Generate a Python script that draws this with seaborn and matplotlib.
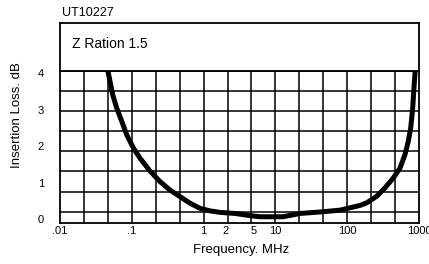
import numpy as np
import pandas as pd
import matplotlib
matplotlib.use("Agg")
import matplotlib.pyplot as plt
import seaborn as sns

# insertion loss curve
freq_mhz = [0.0456, 0.0497, 0.0542, 0.0616, 0.0723, 0.0849, 0.105, 0.130,
            0.179, 0.247, 0.340, 0.469, 0.647, 0.891, 1.23, 1.69, 2.74,
            4.43, 6.11, 12.8, 22.0, 41.8, 79.4, 151, 187, 258, 336, 439,
            544, 638, 709, 766, 817, 851, 890]
loss_db = [4.13, 3.77, 3.40, 3.04, 2.68, 2.31, 1.95, 1.67,
           1.32, 1.03, 0.80, 0.62, 0.44, 0.30, 0.23, 0.19, 0.16,
           0.10, 0.07, 0.07, 0.16, 0.20, 0.25, 0.38, 0.45, 0.63, 0.86, 1.13,
           1.40, 1.77, 2.13, 2.49, 3.04, 3.59, 4.13]

xtick_vals = [0.01, 0.1, 1, 2, 5, 10, 100, 1000]
xtick_labels = [".01", ".1", "1", "2", "5", "10", "100", "1000"]
ytick_vals = [0, 1, 2, 3, 4]
ytick_labels = ["0", "1", "2", "3", "4"]

part_no = "UT10227"
header_text = "Z Ration 1.5"

df = pd.DataFrame({"freq": freq_mhz, "loss": loss_db})

sns.set_style("white")
plt.rcParams["font.family"] = ["Liberation Sans", "DejaVu Sans"]

fig = plt.figure(figsize=(4.29, 2.64), dpi=100)
ax = fig.add_axes([0.1399, 0.1564, 0.8368, 0.5746])
hdr = fig.add_axes([0.1399, 0.7311, 0.8368, 0.1818])

# main plot
ax.set_xscale("log")
ax.set_xlim(0.01, 1000)
ax.set_ylim(-0.093, 4.052)

# uniform chart-paper grid (3 columns per decade, equal rows)
vgrid = 10 ** (np.arange(-5, 9) / 3.0)
hgrid = 4.052 - 0.549 * np.arange(1, 8)
for v in vgrid:
    ax.axvline(v, color="black", lw=1.1, zorder=1)
for h in hgrid:
    ax.axhline(h, color="black", lw=1.1, zorder=1)

sns.lineplot(data=df, x="freq", y="loss", ax=ax, color="black", lw=3.6,
             estimator=None, sort=False, zorder=3)

ax.set_xticks(xtick_vals)
ax.set_xticklabels(xtick_labels)
ax.xaxis.set_minor_locator(matplotlib.ticker.NullLocator())
ax.set_yticks(ytick_vals)
ax.set_yticklabels(ytick_labels)
ax.tick_params(axis="x", length=0, pad=2.5, labelsize=8, colors="black")
ax.tick_params(axis="y", length=0, pad=11.5, labelsize=8, colors="black")
ax.set_xlabel("")
ax.set_ylabel("")
for sp in ax.spines.values():
    sp.set_visible(True)
    sp.set_color("black")
    sp.set_linewidth(1.3)

# header box
hdr.set_xticks([])
hdr.set_yticks([])
for sp in hdr.spines.values():
    sp.set_visible(True)
    sp.set_color("black")
    sp.set_linewidth(1.3)
hdr.text(0.033, 0.56, header_text, transform=hdr.transAxes, ha="left",
         va="center", fontsize=10, color="black")

fig.text(0.1445, 0.951, part_no, ha="left", va="center", fontsize=9,
         color="black")
fig.text(0.562, 0.053, "Frequency. MHz", ha="center", va="center",
         fontsize=9.5, color="black")
fig.text(0.0396, 0.5644, "Insertion Loss. dB", ha="center", va="center",
         rotation=90, fontsize=9.5, color="black")

fig.savefig("out.png", dpi=100)
plt.close(fig)
